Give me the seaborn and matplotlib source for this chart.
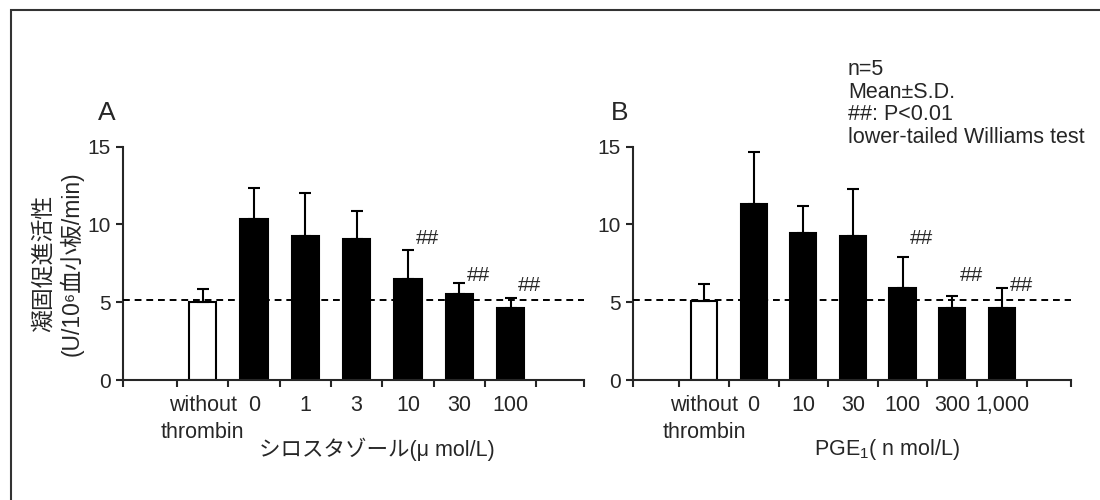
import numpy as np
import pandas as pd
import matplotlib
matplotlib.use("Agg")
import matplotlib.pyplot as plt
import seaborn as sns
from matplotlib.patches import Rectangle

# ---------------- data ----------------
labels_a = ["without\nthrombin", "0", "1", "3", "10", "30", "100"]
mean_a = [5.04, 10.35, 9.29, 9.06, 6.50, 5.52, 4.62]
sd_a = [0.80, 1.99, 2.73, 1.82, 1.87, 0.71, 0.64]
sig_a = ["", "", "", "", "##", "##", "##"]

labels_b = ["without\nthrombin", "0", "10", "30", "100", "300", "1,000"]
mean_b = [5.06, 11.31, 9.45, 9.27, 5.90, 4.62, 4.62]
sd_b = [1.14, 3.33, 1.71, 3.03, 2.04, 0.79, 1.28]
sig_b = ["", "", "", "", "##", "##", "##"]

control_level = 5.15
yticks = [0, 5, 10, 15]
xlabel_a = "シロスタゾール(μ mol/L)"
xlabel_b = "PGE$_{1}$( n mol/L)"
ylabel = "凝固促進活性\n(U/10⁶血小板/min)"
notes = ["n=5", "Mean±S.D.", "##: P<0.01", "lower-tailed Williams test"]

# annotation layout (heights of "##" marks, in data units)
sig_heights = [9.1, 6.75, 6.1]

# ---------------- style ----------------
sns.set_style("ticks")
plt.rcParams["font.family"] = ["Liberation Sans", "Noto Sans CJK JP", "DejaVu Sans"]
plt.rcParams["mathtext.fontset"] = "custom"
plt.rcParams["mathtext.rm"] = "Liberation Sans"
plt.rcParams["mathtext.it"] = "Liberation Sans"
plt.rcParams["axes.linewidth"] = 1.5
plt.rcParams["xtick.major.width"] = 1.5
plt.rcParams["ytick.major.width"] = 1.5
plt.rcParams["xtick.major.size"] = 5
plt.rcParams["ytick.major.size"] = 5

fig = plt.figure(figsize=(11, 5), dpi=100)
W, H = 1100, 500
y0_px, y15_px = 380, 146.7

def make_panel(left_px, right_px, xlim, labels, means, sds, sigs, letter, letter_x,
               xlabel, xlabel_x, show_ylabel):
    ax = fig.add_axes([left_px / W, 1 - y0_px / H, (right_px - left_px) / W,
                       (y0_px - y15_px) / H])
    df = pd.DataFrame({"label": labels, "mean": means})
    colors = ["white"] + ["black"] * (len(labels) - 1)
    sns.barplot(data=df, x="label", y="mean", hue="label", order=labels,
                hue_order=labels, palette=colors, legend=False, errorbar=None,
                width=0.53, edgecolor="black", linewidth=1.5, saturation=1, ax=ax)
    pos = np.arange(len(labels))
    ax.errorbar(pos, means, yerr=[np.zeros(len(sds)), sds], fmt="none",
                ecolor="black", elinewidth=1.5, capsize=4, capthick=1.5, zorder=3)
    ax.axhline(control_level, color="black", lw=1.4, ls=(0, (3.5, 2.5)), zorder=4)

    ax.set_xlim(*xlim)
    ax.set_ylim(0, 15)
    ax.set_yticks(yticks)
    ax.tick_params(axis="y", labelsize=15, pad=4, direction="out")
    bounds = [xlim[0]] + list(np.arange(len(labels) + 1) - 0.5) + [xlim[1]]
    ax.set_xticks(bounds)
    ax.set_xticklabels([""] * len(bounds))
    ax.set_xticks(pos, labels, minor=True)
    ax.tick_params(axis="x", which="minor", length=0, pad=11, labelsize=15.5)
    for t in ax.get_xticklabels(minor=True):
        t.set_linespacing(1.35)
    sns.despine(ax=ax)

    ax.set_xlabel(xlabel, fontsize=15.5)
    ax.xaxis.set_label_coords(xlabel_x, -0.296)
    ax.xaxis.label.set_va("center")
    if show_ylabel:
        ax.set_ylabel(ylabel, fontsize=16.5, linespacing=1.25)
        ax.yaxis.set_label_coords(-0.141, 0.5)
        ax.yaxis.label.set_va("center")
    else:
        ax.set_ylabel("")

    k = 0
    for p, s in zip(pos, sigs):
        if s:
            ax.text(p + 0.15, sig_heights[k], s, ha="left", va="center", fontsize=15)
            k += 1

    fig.text(letter_x / W, 1 - 120 / H, letter, fontsize=19, va="baseline", ha="left")
    return ax

make_panel(123, 584, (-1.55, 7.43), labels_a, mean_a, sd_a, sig_a, "A", 98,
           xlabel_a, 0.551, True)
make_panel(633, 1071, (-1.43, 7.39), labels_b, mean_b, sd_b, sig_b, "B", 611,
           xlabel_b, 0.581, False)

for i, line in enumerate(notes):
    fig.text(848 / W, 1 - (75 + 22.7 * i) / H, line, fontsize=15.5, va="baseline",
             ha="left")

# outer frame (left and top edges visible)
fig.add_artist(Rectangle((11 / W, -1), 2, 1 + (1 - 10 / H), transform=fig.transFigure,
                         fill=False, edgecolor="#333333", linewidth=1.5))

fig.savefig("out.png", dpi=100)
